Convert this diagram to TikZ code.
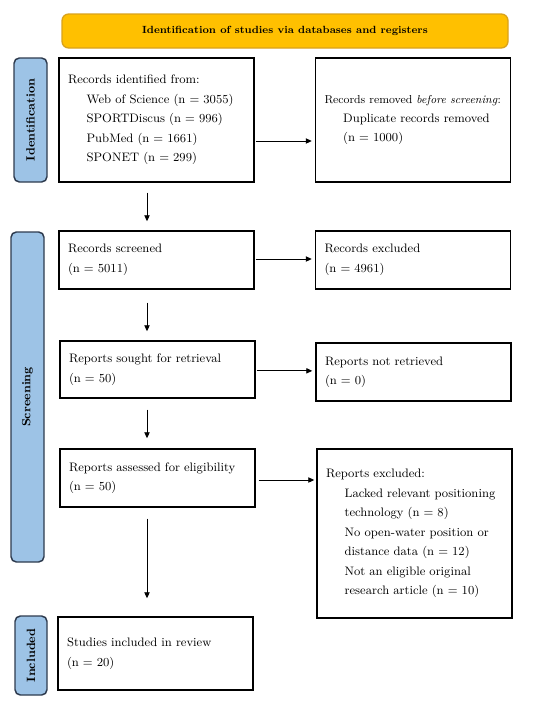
\documentclass[tikz,border=0pt]{standalone}
\usetikzlibrary{arrows.meta}
\definecolor{gold}{HTML}{FFC000}
\definecolor{goldline}{HTML}{D9A21B}
\definecolor{bluefill}{HTML}{9DC3E6}
\definecolor{blueline}{HTML}{2E3B4E}
\tikzset{
  boxnode/.style={draw=black, line width=1.1pt, fill=white, inner xsep=6.75pt, inner ysep=0pt,
    align=left, minimum width=146.25pt, text width=132.75pt,
    font=\fontsize{9.2}{14.6}\selectfont},
  labnode/.style={draw=blueline, fill=bluefill, line width=1.1pt, rounded corners=4pt, rotate=90,
    inner sep=0pt, minimum height=24.75pt, font=\bfseries\fontsize{9}{11}\selectfont},
  titlenode/.style={draw=goldline, fill=gold, line width=1pt, rounded corners=5pt,
    minimum width=334.5pt, minimum height=25.5pt, font=\bfseries\fontsize{7.8}{10}\selectfont},
  arr/.style={-{Triangle[length=4.5pt,width=4pt]}, line width=0.7pt},
}
\newcommand{\ind}{\hspace*{14pt}}
\begin{document}
\begin{tikzpicture}[x=0.75pt,y=-0.75pt]
\useasboundingbox (0,0) rectangle (550,703);
\node[titlenode] (t) at (285,31) {Identification of studies via databases and registers};
\node[labnode, minimum width=93pt] (lid) at (30.5,120) {Identification};
\node[labnode, minimum width=247.5pt] (lsc) at (27.5,397) {Screening};
\node[labnode, minimum width=59.25pt, minimum height=24pt] (lin) at (31,655.5) {Included};

\node[boxnode, minimum height=93pt] (b1) at (156.5,120) {Records identified from:\\\ind Web of Science (n = 3055)\\\ind SPORTDiscus (n = 996)\\\ind PubMed (n = 1661)\\\ind SPONET (n = 299)};
\node[boxnode, minimum height=93pt] (b2) at (413,120) {\mbox{\fontsize{8.6}{14.6}\selectfont Records removed \emph{before screening}:}\\\ind Duplicate records removed\\\ind (n = 1000)};
\node[boxnode, minimum height=43.5pt] (b3) at (156.5,260) {Records screened\\(n = 5011)};
\node[boxnode, minimum height=43.5pt] (b4) at (413,260) {Records excluded\\(n = 4961)};
\node[boxnode, minimum height=42.75pt] (b5) at (157.5,369.5) {Reports sought for retrieval\\(n = 50)};
\node[boxnode, minimum height=43.5pt] (b6) at (413.5,372) {Reports not retrieved\\(n = 0)};
\node[boxnode, minimum height=43.5pt] (b7) at (157.5,478) {Reports assessed for eligibility\\(n = 50)};
\node[boxnode, minimum height=126.75pt] (b8) at (414.5,533.5) {Reports excluded:\\\ind Lacked relevant positioning\\\ind technology (n = 8)\\\ind No open-water position or\\\ind distance data (n = 12)\\\ind Not an eligible original\\\ind research article (n = 10)};
\node[boxnode, minimum height=54.75pt] (b9) at (155.5,653.5) {Studies included in review\\(n = 20)};

\coordinate (col) at (147,0);
\draw[arr, shorten <=0.75pt, shorten >=2.25pt] ([yshift=-15.75pt]b1.east) -- ([yshift=-15.75pt]b1.east -| b2.west);
\draw[arr, shorten <=0.75pt, shorten >=2.25pt] ([yshift=0.75pt]b3.east) -- ([yshift=0.75pt]b3.east -| b4.west);
\draw[arr, shorten <=0.75pt, shorten >=2.25pt] ([yshift=-1pt]b5.east) -- ([yshift=-1pt]b5.east -| b6.west);
\draw[arr, shorten <=2.25pt, shorten >=1.5pt] ([yshift=-1.5pt]b7.east) -- ([yshift=-1.5pt]b7.east -| b8.west);
\draw[arr, shorten <=7.5pt, shorten >=6.75pt] (b1.south -| col) -- (b3.north -| col);
\draw[arr, shorten <=9.75pt, shorten >=6.75pt] (b3.south -| col) -- (b5.north -| col);
\draw[arr, shorten <=8.25pt, shorten >=7.5pt] (b5.south -| col) -- (b7.north -| col);
\draw[arr, shorten <=8.25pt, shorten >=13.5pt] (b7.south -| col) -- (b9.north -| col);
\end{tikzpicture}
\end{document}
